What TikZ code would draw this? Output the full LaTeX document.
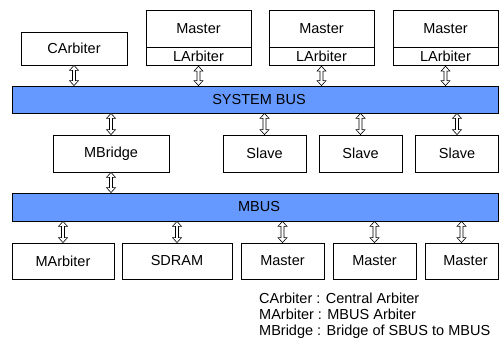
\documentclass[tikz,border=0pt]{standalone}
\usepackage{fontspec}
\setmainfont{Liberation Sans}
\usetikzlibrary{calc}
\definecolor{busblue}{RGB}{102,153,255}
\begin{document}
\begin{tikzpicture}[x=1pt,y=1pt]
			\useasboundingbox (0,0) rectangle (499,342);
			\tikzstyle{every node}+=[inner sep=0pt, font=\fontsize{14.5}{16}\selectfont]
			\tikzstyle{box}=[draw=black, line width=0.8pt, fill=white, minimum height=37pt]
			\tikzstyle{bus}=[draw=black, line width=0.8pt, fill=busblue, minimum width=486pt]
			\tikzstyle{dbl}=[draw=black, line width=0.6pt, fill=white,
				to path={let \p1=(\tikztostart), \p2=(\tikztotarget) in
					(\x1,\y1) -- (\x1+4.5pt,\y1-5pt) -- (\x1+1.5pt,\y1-5pt) -- (\x1+1.5pt,\y2+5pt)
					-- (\x1+4.5pt,\y2+5pt) -- (\x1,\y2) -- (\x1-4.5pt,\y2+5pt) -- (\x1-1.5pt,\y2+5pt)
					-- (\x1-1.5pt,\y1-5pt) -- (\x1-4.5pt,\y1-5pt) -- cycle}]
			% top row
			\node [box, minimum width=106pt, minimum height=33pt] (carb) at (74,293.5) {CArbiter};
			\foreach \k/\xpos in {1/198.5, 2/321.5, 3/445.5} {
				\node [box, minimum width=105pt] (mst\k) at (\xpos,313.5) {Master};
				\node [box, minimum width=105pt, minimum height=18pt, anchor=north] (larb\k) at (mst\k.south) {LArbiter};
			}
			% buses
			\node [bus, minimum height=27pt] (sys) at (255,242.5) {\hspace*{8pt}SYSTEM BUS};
			\node [bus, minimum height=28pt] (mbus) at (255,135) {\hspace*{8pt}MBUS};
			% middle row
			\node [box, minimum width=116pt] (mbr) at (111,188.5) {MBridge};
			\foreach \k/\xpos in {1/264.5, 2/360.5, 3/457} {
				\node [box, minimum width=83pt] (slv\k) at (\xpos,188.5) {Slave};
			}
			% bottom row
			\node [box, minimum width=102pt, minimum height=36pt] (marb) at (63,81) {MArbiter};
			\node [box, minimum width=110pt, minimum height=36pt] (sdram) at (177,81) {SDRAM};
			\node [box, minimum width=83pt, minimum height=36pt] (bm1) at (282.5,81) {Master};
			\node [box, minimum width=83pt, minimum height=36pt] (bm2) at (374.5,81) {Master};
			\node [box, minimum width=73pt, minimum height=36pt] (bm3) at (461.5,81) {\hspace*{8pt}Master};
			% bus connections
			\draw [dbl] (carb.south) to (carb.south |- sys.north);
			\foreach \k in {1,2,3} {
				\draw [dbl] (larb\k.south) to (larb\k.south |- sys.north);
				\draw [dbl] (sys.south -| slv\k.north) to (slv\k.north);
			}
			\draw [dbl] (sys.south -| mbr.north) to (mbr.north);
			\draw [dbl] (mbr.south) to (mbr.south |- mbus.north);
			\foreach \dev in {marb, sdram, bm1, bm2, bm3} {
				\draw [dbl] (mbus.south -| \dev.north) to (\dev.north);
			}
			% legend
			\node [anchor=north west, align=left, font=\fontsize{14.5}{15.8}\selectfont] (legend) at (259,49)
				{CArbiter : Central Arbiter\\MArbiter : MBUS Arbiter\\MBridge : Bridge of SBUS to MBUS};
\end{tikzpicture}
\end{document}
